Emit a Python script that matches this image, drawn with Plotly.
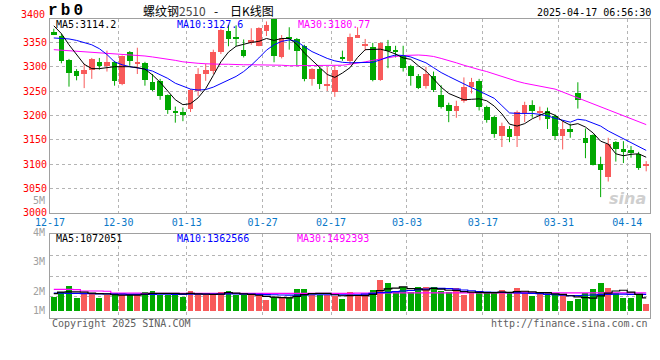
import plotly.graph_objects as go

# ---------------- data ----------------
date_labels = ['12-17', '12-30', '01-13', '01-27', '02-17', '03-03', '03-17', '03-31', '04-14']
date_idx = [0, 9, 18, 28, 37, 47, 57, 67, 76]

opens = [3372, 3364, 3314, 3292, 3284, 3293, 3310, 3301, 3310, 3264,
         3330, 3307, 3308, 3268, 3271, 3241, 3209, 3206, 3214, 3250,
         3285, 3292, 3331, 3374, 3359, 3334, 3348, 3343, 3373, 3397,
         3319, 3359, 3357, 3343, 3275, 3295, 3261, 3248, 3319, 3312,
         3361, 3344, 3340, 3272, 3342, 3335, 3321, 3302, 3281, 3261,
         3281, 3241, 3222, 3210, 3230, 3258, 3271, 3218, 3196, 3158,
         3173, 3157, 3205, 3221, 3205, 3210, 3199, 3157, 3172, 3246,
         3154, 3159, 3101, 3073, 3146, 3130, 3128, 3121, 3097]
closes = [3366, 3312, 3288, 3280, 3294, 3316, 3301, 3309, 3270, 3321,
          3311, 3309, 3273, 3252, 3240, 3211, 3206, 3201, 3252, 3285,
          3294, 3331, 3376, 3356, 3357, 3321, 3355, 3379, 3386, 3321,
          3359, 3357, 3333, 3274, 3295, 3264, 3264, 3294, 3317, 3362,
          3365, 3345, 3272, 3348, 3332, 3332, 3297, 3281, 3257, 3285,
          3252, 3218, 3209, 3220, 3258, 3268, 3218, 3190, 3161, 3178,
          3155, 3207, 3221, 3209, 3209, 3192, 3157, 3171, 3166, 3232,
          3144, 3099, 3087, 3141, 3131, 3124, 3124, 3092, 3099]
highs = [3378, 3368, 3316, 3295, 3306, 3318, 3318, 3333, 3312, 3323,
         3332, 3339, 3310, 3285, 3275, 3243, 3218, 3216, 3254, 3297,
         3306, 3335, 3378, 3386, 3385, 3356, 3379, 3381, 3393, 3399,
         3365, 3381, 3359, 3345, 3297, 3300, 3299, 3302, 3333, 3368,
         3381, 3357, 3349, 3350, 3355, 3343, 3343, 3304, 3285, 3300,
         3290, 3262, 3226, 3230, 3278, 3277, 3275, 3220, 3199, 3185,
         3178, 3210, 3228, 3231, 3218, 3216, 3202, 3188, 3183, 3268,
         3173, 3161, 3115, 3154, 3147, 3147, 3137, 3125, 3106]
lows = [3365, 3307, 3259, 3272, 3256, 3275, 3294, 3290, 3261, 3262,
        3302, 3285, 3261, 3250, 3232, 3203, 3185, 3188, 3207, 3240,
        3271, 3285, 3326, 3342, 3342, 3319, 3345, 3342, 3363, 3309,
        3317, 3335, 3302, 3270, 3261, 3254, 3250, 3238, 3312, 3305,
        3359, 3333, 3270, 3271, 3297, 3319, 3290, 3261, 3254, 3255,
        3248, 3214, 3186, 3195, 3226, 3245, 3210, 3185, 3154, 3135,
        3145, 3135, 3186, 3195, 3190, 3172, 3150, 3130, 3154, 3214,
        3112, 3097, 3032, 3064, 3105, 3102, 3113, 3088, 3085]

ma5 = [3384, 3368, 3345, 3325, 3305, 3296, 3296, 3298, 3300, 3300,
       3300, 3298, 3295, 3283, 3268, 3250, 3232, 3222, 3224, 3236,
       3255, 3282, 3310, 3330, 3342, 3346, 3350, 3352, 3358, 3354,
       3358, 3358, 3346, 3328, 3314, 3300, 3284, 3278, 3287, 3298,
       3319, 3335, 3336, 3336, 3332, 3326, 3318, 3315, 3302, 3291,
       3275, 3258, 3245, 3238, 3232, 3233, 3234, 3230, 3219, 3203,
       3182, 3178, 3183, 3193, 3200, 3207, 3200, 3188, 3180, 3183,
       3176, 3164, 3147, 3141, 3121, 3117, 3120, 3121, 3114]
ma10 = [3359, 3358, 3357, 3354, 3350, 3345, 3337, 3325, 3310, 3304,
        3300, 3298, 3295, 3291, 3284, 3276, 3266, 3260, 3254, 3252,
        3253, 3258, 3265, 3272, 3280, 3290, 3303, 3318, 3334, 3345,
        3352, 3355, 3352, 3341, 3331, 3324, 3317, 3312, 3309, 3308,
        3308, 3308, 3309, 3314, 3320, 3324, 3323, 3320, 3314, 3308,
        3298, 3288, 3280, 3272, 3264, 3257, 3250, 3243, 3235, 3220,
        3205, 3204, 3204, 3204, 3202, 3199, 3194, 3190, 3186, 3192,
        3190, 3184, 3178, 3168, 3160, 3152, 3145, 3137, 3128]
ma30 = [3335, 3334, 3333, 3332, 3331, 3330, 3328, 3327, 3326, 3326,
        3325, 3324, 3322, 3320, 3318, 3315, 3313, 3310, 3308, 3307,
        3306, 3305, 3305, 3305, 3304, 3304, 3304, 3304, 3303, 3303,
        3303, 3302, 3302, 3302, 3302, 3302, 3302, 3303, 3303, 3305,
        3307, 3310, 3313, 3316, 3319, 3321, 3323, 3324, 3324, 3323,
        3321, 3317, 3313, 3308, 3303, 3298, 3294, 3290, 3285, 3280,
        3274, 3270, 3266, 3263, 3260, 3257, 3254, 3248, 3242, 3236,
        3230, 3224, 3218, 3212, 3206, 3200, 3194, 3187, 3181]

vol_m = [1.15, 1.50, 2.02, 1.07, 1.43, 1.35, 1.07, 1.29, 1.43, 1.48,
         1.26, 1.35, 1.56, 1.64, 1.29, 1.29, 1.48, 1.15, 1.64, 1.35,
         1.29, 1.48, 1.56, 1.64, 1.29, 1.29, 1.29, 1.29, 0.88, 1.12,
         1.12, 1.12, 1.78, 1.78, 1.29, 1.29, 1.29, 1.23, 0.96, 1.53,
         1.23, 1.37, 1.69, 2.51, 2.27, 1.50, 1.94, 1.50, 1.94, 1.94,
         1.94, 1.61, 1.50, 1.86, 1.28, 1.50, 1.50, 1.50, 1.50, 1.69,
         1.42, 1.86, 1.61, 1.23, 1.42, 1.42, 1.34, 1.34, 0.82, 0.93,
         1.42, 1.80, 2.24, 1.89, 1.48, 1.07, 1.07, 1.34, 0.57]
vma5 = [1.42, 1.55, 1.57, 1.56, 1.55, 1.46, 1.42, 1.40, 1.33, 1.29,
        1.30, 1.30, 1.38, 1.44, 1.44, 1.44, 1.45, 1.40, 1.44, 1.40,
        1.38, 1.37, 1.39, 1.50, 1.46, 1.41, 1.36, 1.29, 1.20, 1.13,
        1.10, 1.07, 1.20, 1.34, 1.42, 1.45, 1.45, 1.33, 1.25, 1.26,
        1.27, 1.26, 1.36, 1.67, 1.81, 1.87, 1.97, 1.84, 1.82, 1.72,
        1.85, 1.79, 1.70, 1.68, 1.58, 1.55, 1.53, 1.50, 1.50, 1.54,
        1.52, 1.59, 1.62, 1.56, 1.51, 1.50, 1.40, 1.37, 1.25, 1.15,
        1.10, 1.06, 1.24, 1.46, 1.64, 1.70, 1.55, 1.37, 1.07]
vma10 = [1.47, 1.46, 1.45, 1.44, 1.43, 1.42, 1.41, 1.40, 1.39, 1.38,
         1.37, 1.37, 1.36, 1.37, 1.38, 1.38, 1.37, 1.37, 1.38, 1.38,
         1.38, 1.39, 1.39, 1.40, 1.40, 1.39, 1.38, 1.37, 1.35, 1.33,
         1.31, 1.30, 1.30, 1.32, 1.33, 1.33, 1.33, 1.33, 1.32, 1.31,
         1.33, 1.38, 1.45, 1.50, 1.53, 1.58, 1.64, 1.68, 1.74, 1.80,
         1.86, 1.86, 1.84, 1.80, 1.72, 1.66, 1.58, 1.55, 1.53, 1.53,
         1.50, 1.48, 1.47, 1.45, 1.42, 1.37, 1.33, 1.30, 1.26, 1.27,
         1.29, 1.31, 1.34, 1.37, 1.38, 1.38, 1.37, 1.37, 1.36]
vma30 = [1.78, 1.78, 1.78, 1.75, 1.64, 1.64, 1.64, 1.62, 1.47, 1.46,
         1.46, 1.46, 1.45, 1.45, 1.45, 1.45, 1.45, 1.45, 1.45, 1.45,
         1.45, 1.45, 1.45, 1.45, 1.45, 1.45, 1.45, 1.45, 1.44, 1.44,
         1.44, 1.44, 1.44, 1.44, 1.44, 1.44, 1.44, 1.44, 1.44, 1.45,
         1.46, 1.46, 1.47, 1.47, 1.48, 1.48, 1.48, 1.48, 1.48, 1.48,
         1.48, 1.48, 1.48, 1.48, 1.48, 1.48, 1.48, 1.48, 1.48, 1.48,
         1.49, 1.49, 1.49, 1.49, 1.49, 1.49, 1.49, 1.49, 1.49, 1.49,
         1.49, 1.49, 1.49, 1.49, 1.49, 1.49, 1.49, 1.49, 1.49]

price_ticks = [3000, 3050, 3100, 3150, 3200, 3250, 3300, 3350]

# ---------------- styles ----------------
RED = '#f85a5a'
GREEN = '#00a800'
MONO = 'DejaVu Sans Mono'
W, H = 660, 360
ML, MR, MT, MB = 50, 10, 19, 42
PW, PH = W - ML - MR, H - MT - MB

def px(x):
    return (x - ML) / PW

def py(y):
    return (H - MB - y) / PH

n = len(closes)
idx = list(range(n))
up = [c >= o for o, c in zip(opens, closes)]
cols = [RED if u else GREEN for u in up]

fig = go.Figure()

# wicks
for flag, col in ((True, RED), (False, GREEN)):
    wx, wy = [], []
    for i in idx:
        if up[i] == flag:
            wx += [i, i, None]
            wy += [lows[i], highs[i], None]
    fig.add_trace(go.Scatter(x=wx, y=wy, mode='lines', line=dict(color=col, width=1),
                             hoverinfo='skip', showlegend=False, xaxis='x', yaxis='y'))

# bodies
body_base = [min(o, c) for o, c in zip(opens, closes)]
body_h = [max(abs(c - o), 2) for o, c in zip(opens, closes)]
fig.add_trace(go.Bar(x=idx, y=body_h, base=body_base, marker=dict(color=cols, line=dict(width=0)),
                     width=0.74, showlegend=False, xaxis='x', yaxis='y'))

# moving averages
for arr, col in ((ma30, '#ff00ff'), (ma10, '#0000ff'), (ma5, '#000000')):
    fig.add_trace(go.Scatter(x=idx, y=arr, mode='lines', line=dict(color=col, width=1),
                             showlegend=False, xaxis='x', yaxis='y'))

# volume
fig.add_trace(go.Bar(x=idx, y=vol_m, marker=dict(color=cols, line=dict(width=0)), width=0.78,
                     showlegend=False, xaxis='x2', yaxis='y2'))
for arr, col in ((vma30, '#ff00ff'), (vma10, '#0000ff'), (vma5, '#000000')):
    fig.add_trace(go.Scatter(x=idx, y=arr, mode='lines', line=dict(color=col, width=1.2, shape='hvh'),
                             showlegend=False, xaxis='x2', yaxis='y2'))

grid_x = [k - 0.5 for k in date_idx]
common_x = dict(range=[-0.5, n - 0.5], tickvals=grid_x, showgrid=True, gridcolor='#b4b4b4',
                griddash='dot', gridwidth=1, showline=True, linecolor='#a0a0a0', linewidth=1,
                mirror=True, zeroline=False, ticks='', fixedrange=True)

fig.update_layout(
    width=W, height=H, margin=dict(l=ML, r=MR, t=MT, b=MB),
    paper_bgcolor='white', plot_bgcolor='white', bargap=0, showlegend=False,
    xaxis=dict(domain=[0, 1], anchor='y', ticktext=date_labels,
               tickfont=dict(family=MONO, size=10, color='#0a78c8'), **common_x),
    yaxis=dict(domain=[py(212.7), 1], range=[3000, 3398], tickvals=price_ticks,
               ticktext=[str(v) for v in price_ticks], tickfont=dict(family=MONO, size=10, color='#ff0000'),
               showgrid=True, gridcolor='#b4b4b4', griddash='dot', showline=True, linecolor='#a0a0a0',
               mirror=True, zeroline=False, ticks='', fixedrange=True),
    xaxis2=dict(domain=[0, 1], anchor='y2', showticklabels=False, **common_x),
    yaxis2=dict(domain=[0, py(234.3)], range=[-0.574, 6.287], tickvals=[1.15, 2.86, 4.57],
                showticklabels=False, showgrid=True, gridcolor='#b4b4b4', griddash='dot',
                showline=True, linecolor='#a0a0a0', mirror=True, zeroline=False, ticks='',
                fixedrange=True),
)

ann = []

def text(x, y, s, color='#000000', size=10, anchor='left', family=MONO, bold=False, style='normal'):
    ann.append(dict(x=px(x), y=py(y), xref='paper', yref='paper', text=('<b>%s</b>' % s) if bold else s,
                    showarrow=False, xanchor=anchor, yanchor='middle',
                    font=dict(family=family, size=size, color=color, style=style)))

text(46, 11, 'r\u2009b\u20090', size=16, bold=True, family='Liberation Mono')
text(141, 10, '螺纹钢<span style="color:#444">2510</span>', size=12, family='Noto Sans CJK SC')
text(216, 10, '-', size=12, family='Noto Sans CJK SC', anchor='center')
text(228, 10, '日K线图', size=12, family='Noto Sans CJK SC')
text(653, 12, '2025-04-17 06:56:30', anchor='right')
text(47, 14.5, '3400', color='#ff0000', anchor='right')
text(54, 24.5, 'MA5:3114.2')
text(175, 24.5, 'MA10:3127.6', color='#0000ff')
text(296, 24.5, 'MA30:3180.77', color='#ff00ff')
text(47, 200, '5M', color='#a0a0a0', anchor='right')
text(54, 238.5, 'MA5:1072051')
text(175, 238.5, 'MA10:1362566', color='#0000ff')
text(295, 238.5, 'MA30:1492393', color='#ff00ff')
text(47, 232.5, '4M', color='#a0a0a0', anchor='right')
text(47, 261, '3M', color='#a0a0a0', anchor='right')
text(47, 291, '2M', color='#a0a0a0', anchor='right')
text(47, 310.5, '1M', color='#a0a0a0', anchor='right')
text(50, 323.5, 'Copyright 2025 SINA.COM', color='#606060')
text(650, 323.5, 'http://finance.sina.com.cn', color='#606060', anchor='right')
text(648, 198, 'sina', color='#cfcfcf', size=16, anchor='right', family='DejaVu Sans', bold=True,
     style='italic')

fig.update_layout(annotations=ann)
fig.write_html('out.html', config={'displayModeBar': False},
               post_script="document.body.style.margin='0';document.body.style.overflow='hidden';")
